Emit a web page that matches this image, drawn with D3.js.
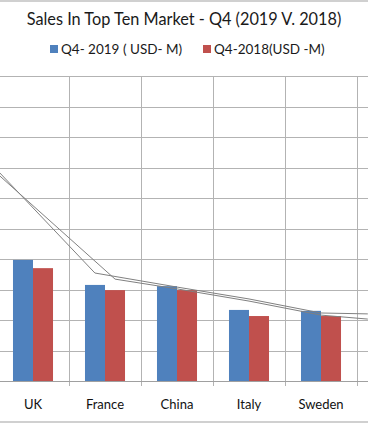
<!DOCTYPE html>
<html>
<head>
<meta charset="utf-8">
<script src="https://cdn.jsdelivr.net/npm/d3@7"></script>
<style>
  body { margin: 0; background: #fff; }
  svg { display: block; font-family: Lato, "Open Sans", sans-serif; }
  .grid line { stroke: #b3b3b3; stroke-width: 1; }
</style>
</head>
<body>
<div id="chart"></div>
<script>
'use strict'
// visible part of the chart only (left and right ends are cut off)
const categories = ["UK", "France", "China", "Italy", "Sweden"]
const seriesNames = ["Q4- 2019 ( USD- M)", "Q4-2018(USD -M)"]
const sales2019 = [397, 315, 311, 233, 230]
const sales2018 = [370, 298, 298, 213, 213]
const colors = ["#4f81bd", "#c0504d"]
const yTicks = [0, 100, 200, 300, 400, 500, 600, 700, 800, 900, 1000]
// two thin gray trend lines, x given in category index units
const lineA = [[-0.46, 682], [0.86, 354], [2, 308], [3, 269], [4, 223], [4.65, 220]]
const lineB = [[-0.46, 672], [1.14, 334], [2, 302], [3, 262], [4, 216], [4.65, 203]]

const W = 368, H = 423
const svg = d3.select("#chart").append("svg")
  .attr("width", W).attr("height", H)

// chart border (top and bottom visible)
svg.append("line").attr("x1", 0).attr("x2", W).attr("y1", 1).attr("y2", 1)
  .attr("stroke", "#d0d0d0").attr("stroke-width", 2)
svg.append("line").attr("x1", 0).attr("x2", W).attr("y1", 422).attr("y2", 422)
  .attr("stroke", "#d0d0d0").attr("stroke-width", 2)

svg.append("text")
  .attr("x", 184).attr("y", 25)
  .attr("text-anchor", "middle")
  .attr("font-size", 16.3).attr("fill", "#1a1a1a")
  .text("Sales In Top Ten Market - Q4 (2019 V. 2018)")

// legend
const legendX = [50, 203]
seriesNames.forEach((name, i) => {
  svg.append("rect").attr("x", legendX[i]).attr("y", 45)
    .attr("width", 8).attr("height", 8).attr("fill", colors[i])
  svg.append("text").attr("x", legendX[i] + 11).attr("y", 54)
    .attr("font-size", 13.5).attr("fill", "#1a1a1a").text(name)
})

const x0 = d3.scaleBand().domain(categories).range([-3, 357]).paddingInner(0).paddingOuter(0)
const bw = x0.bandwidth()
const x1 = d3.scaleBand().domain([0, 1]).range([bw * 0.222, bw * 0.778])
const y = d3.scaleLinear().domain([0, 1000]).range([381, 76])
const xi = d3.scaleLinear().domain([0, 1]).range([x0(categories[0]) + bw / 2, x0(categories[1]) + bw / 2])

// horizontal gridlines
svg.append("g").attr("class", "grid")
  .selectAll("line").data(yTicks.slice(1)).join("line")
  .attr("x1", 0).attr("x2", W)
  .attr("y1", d => Math.round(y(d)) + 0.5).attr("y2", d => Math.round(y(d)) + 0.5)

// vertical gridlines at category boundaries, with tick below axis
const bounds = categories.map(c => x0(c)).concat([x0(categories[categories.length - 1]) + bw])
svg.append("g").attr("class", "grid")
  .selectAll("line").data(bounds).join("line")
  .attr("x1", d => Math.round(d) + 0.5).attr("x2", d => Math.round(d) + 0.5)
  .attr("y1", y(1000)).attr("y2", y(0) + 5)

// axis line
svg.append("line").attr("x1", 0).attr("x2", W)
  .attr("y1", Math.round(y(0)) + 0.5).attr("y2", Math.round(y(0)) + 0.5)
  .attr("stroke", "#a0a0a0")

// bars
const groups = svg.append("g").selectAll("g").data(categories).join("g")
  .attr("transform", d => `translate(${x0(d)},0)`)
groups.selectAll("rect")
  .data((d, i) => [sales2019[i], sales2018[i]])
  .join("rect")
  .attr("x", (d, j) => x1(j))
  .attr("width", x1.bandwidth())
  .attr("y", d => y(d))
  .attr("height", d => y(0) - y(d))
  .attr("fill", (d, j) => colors[j])

// trend lines
const line = d3.line().x(d => xi(d[0])).y(d => y(d[1]))
;[lineA, lineB].forEach(pts => {
  svg.append("path").attr("d", line(pts))
    .attr("fill", "none").attr("stroke", "#808080").attr("stroke-width", 1)
})

// category labels
svg.append("g").selectAll("text").data(categories).join("text")
  .attr("x", d => x0(d) + bw / 2)
  .attr("y", 409)
  .attr("text-anchor", "middle")
  .attr("font-size", 13).attr("fill", "#111")
  .text(d => d)
</script>
</body>
</html>
